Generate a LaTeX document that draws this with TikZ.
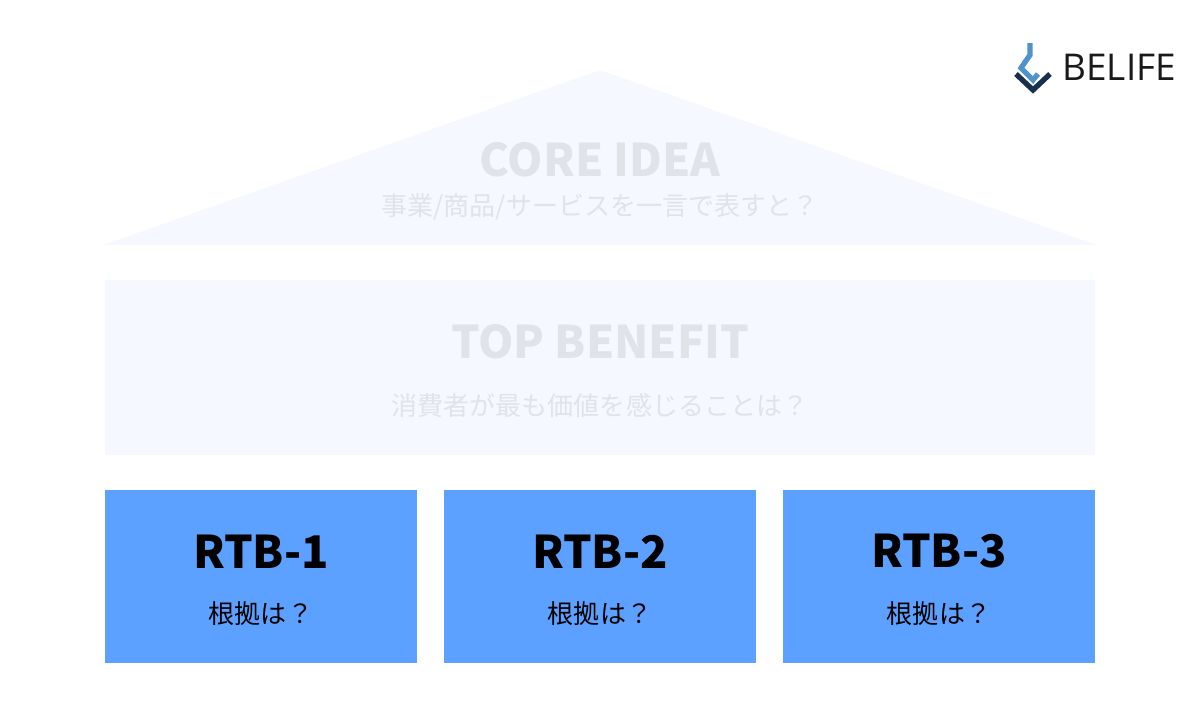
\documentclass[tikz,border=0pt]{standalone}
\usepackage{fontspec}
\setmainfont{Noto Sans CJK JP}
\newfontfamily\logofont{Open Sans}
\usetikzlibrary{positioning}
\definecolor{paleblue}{HTML}{F5F8FE}
\definecolor{palegray}{HTML}{E0E3E8}
\definecolor{rtbblue}{HTML}{5CA1FF}
\definecolor{navy}{HTML}{17304F}
\definecolor{skyblue}{HTML}{4F93CC}
\tikzset{
  rtb/.style={fill=rtbblue, minimum width=3.12cm, minimum height=1.73cm, inner sep=0pt},
  bigtitle/.style={font=\fontsize{12.8}{15}\selectfont\bfseries},
  smalltext/.style={font=\fontsize{7.4}{9}\selectfont},
  logoline/.style={line width=1.5pt, line cap=butt, line join=miter}
}
\begin{document}
\begin{tikzpicture}
\useasboundingbox (0,0) rectangle (12,7);
% roof
\fill [paleblue] (1.03,4.55) -- (6,6.3) -- (10.97,4.55) -- cycle;
\node [bigtitle, text=palegray] (core) at (6,5.4) {CORE IDEA};
\node [smalltext, text=palegray] (coresub) at (6,4.93) {事業/商品/サービスを一言で表すと？};
% top benefit
\fill [paleblue] (1.05,2.45) rectangle (10.95,4.2);
\node [bigtitle, text=palegray] (benefit) at (6,3.58) {TOP BENEFIT};
\node [smalltext, text=palegray] (benefitsub) at (6,2.94) {消費者が最も価値を感じることは？};
% pillars
\foreach \i/\x in {1/2.61, 2/6.0, 3/9.39} {
  \node [rtb] (rtb\i) at (\x,1.235) {};
  \node [bigtitle] at ([yshift=0.25cm]rtb\i.center) {RTB-\i};
  \node [smalltext] at ([yshift=-0.37cm]rtb\i.center) {根拠は？};
}
% logo
\draw [logoline, skyblue] (10.3,6.57) -- (10.3,6.45) -- (10.21,6.32) -- (10.33,6.2) -- (10.38,6.26);
\draw [logoline, navy] (10.16,6.26) -- (10.33,6.1) -- (10.5,6.26);
\node [font=\logofont\fontsize{10.5}{12}\selectfont, text=black!90, anchor=west] (logo) at (10.5,6.33) {BELIFE};
\end{tikzpicture}
\end{document}
